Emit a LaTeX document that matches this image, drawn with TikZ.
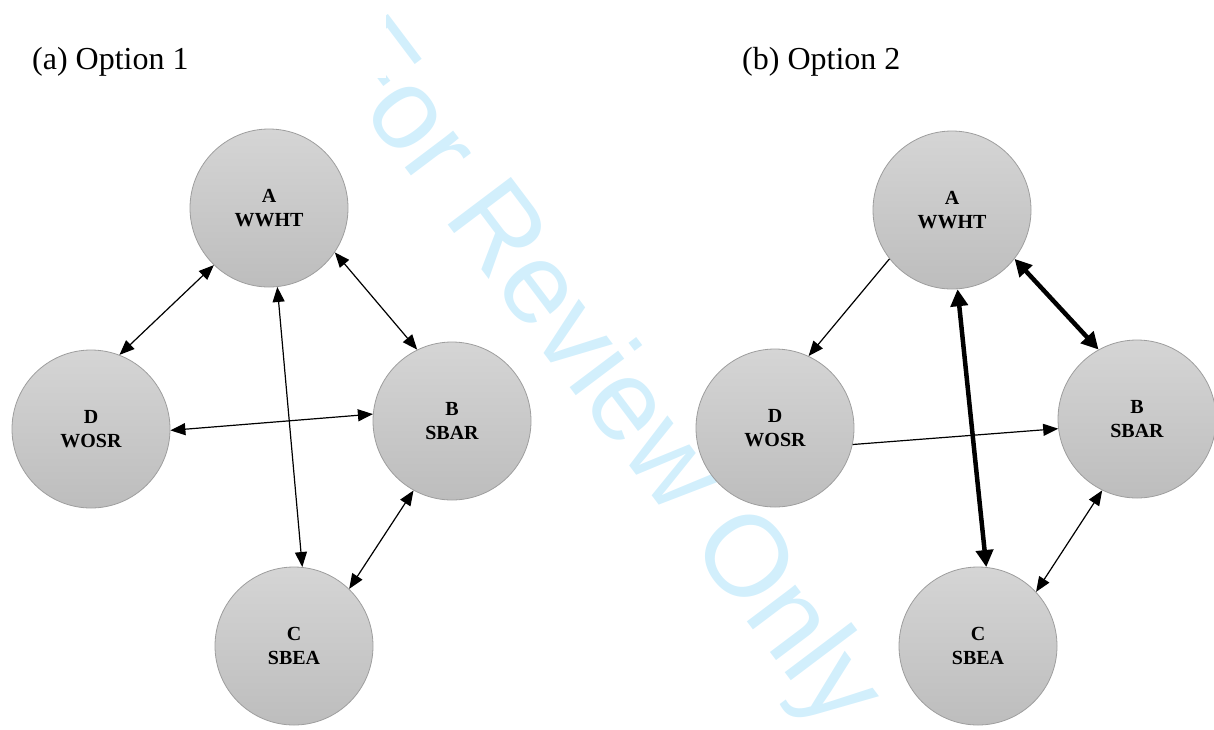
\documentclass[tikz,border=0pt]{standalone}
\usepackage{fontspec}
\setmainfont{Liberation Serif}
\newfontfamily\wmfont{Liberation Sans}
\usetikzlibrary{arrows.meta}
\definecolor{wmcyan}{RGB}{210,239,252}
\definecolor{nodetop}{RGB}{213,213,213}
\definecolor{nodebot}{RGB}{189,189,189}
\definecolor{nodeborder}{RGB}{158,158,158}
\begin{document}
\begin{tikzpicture}[x=1pt,y=-1pt,
  state/.style={circle, minimum size=158pt, inner sep=0pt, draw=nodeborder, line width=0.8pt,
    top color=nodetop, bottom color=nodebot,
    font=\fontsize{20}{24}\selectfont\bfseries, align=center},
  thinboth/.style={line width=1.2pt, {Triangle[length=15pt,width=12pt]}-{Triangle[length=15pt,width=12pt]}},
  thinone/.style={line width=1.2pt, -{Triangle[length=15pt,width=12pt]}},
  thickboth/.style={line width=4.5pt, {Triangle[length=17pt,width=17pt]}-{Triangle[length=17pt,width=17pt]}},
  caption/.style={anchor=base west, inner sep=0pt, font=\fontsize{32}{38}\selectfont},
  watermark/.style={text=wmcyan, font=\wmfont\fontsize{115}{130}\selectfont, rotate=-53, inner sep=0pt}
]
\useasboundingbox (0,0) rectangle (1214,729);
\begin{scope}
\clip (0,78) -- (386,78) -- (386,13) -- (1214,13) -- (1214,729) -- (0,729) -- cycle;
\node[watermark] (wm) at (599,376) {For Review Only};
\end{scope}

\node[caption] (capa) at (32,69) {(a) Option 1};
\node[caption] (capb) at (742,69) {(b) Option 2};

% left panel
\node[state] (A1) at (269,208) {A\\WWHT};
\node[state] (D1) at (91,429) {D\\WOSR};
\node[state] (B1) at (452,421) {B\\SBAR};
\node[state] (C1) at (294,646) {C\\SBEA};

\draw[thinboth] (A1.226.5) -- (D1.69);
\draw[thinboth] (A1.-34.5) -- (B1.116);
\draw[thinboth] (A1.-84) -- (C1.84);
\draw[thinboth] (D1.-1.5) -- (B1.175.7);
\draw[thinboth] (B1.241) -- (C1.46.5);

% right panel
\node[state] (A2) at (952,210) {A\\WWHT};
\node[state] (D2) at (775,428) {D\\WOSR};
\node[state] (B2) at (1137,419) {B\\SBAR};
\node[state] (C2) at (978,646) {C\\SBEA};

\draw[thinone] (A2.218) -- (D2.65);
\draw[thinone] (D2.-12) -- (B2.187);
\draw[thickboth] (A2.-86) -- (C2.84);
\draw[thickboth] (A2.-38.7) -- (B2.119.5);
\draw[thinboth] (B2.244) -- (C2.43);
\end{tikzpicture}
\end{document}
